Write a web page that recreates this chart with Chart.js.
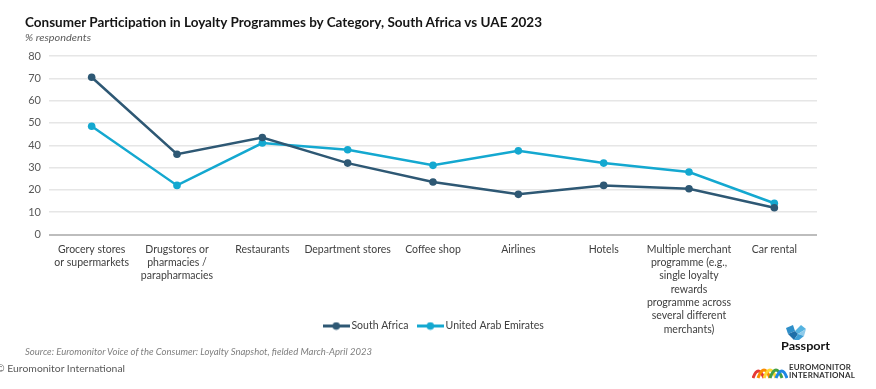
<!DOCTYPE html>
<html>
<head>
<meta charset="utf-8">
<script src="https://cdn.jsdelivr.net/npm/chart.js@4.4.1/dist/chart.umd.min.js"></script>
<style>
    html, body { margin: 0; padding: 0; background: #fff; }
    body { width: 876px; height: 389px; position: relative; overflow: hidden; font-family: Lato, sans-serif; }
    #chart { position: absolute; left: 0; top: 0; }
    .txt { position: absolute; white-space: nowrap; line-height: 1; transform-origin: 0 50%; }
    .title { left: 25px; top: 15px; font-size: 14px; font-weight: bold; color: #151515; }
    .subtitle { left: 25px; top: 32px; font-size: 10px; font-style: italic; color: #595959; }
    .source { left: 25px; top: 347px; font-size: 9px; font-style: italic; color: #7f7f7f; }
    .copy { left: -4px; top: 364px; font-size: 9px; color: #595959; }
    .passport { left: 781px; top: 340px; font-size: 12px; font-weight: bold; color: #111; }
    .euro { left: 789px; font-size: 8px; font-weight: bold; color: #333; letter-spacing: 0.2px; }
    svg { position: absolute; }
</style>
</head>
<body>
<canvas id="chart" width="876" height="389"></canvas>

<div class="txt title" data-w="517">Consumer Participation in Loyalty Programmes by Category, South Africa vs UAE 2023</div>
<div class="txt subtitle" data-w="66">% respondents</div>
<div class="txt source" data-w="347">Source: Euromonitor Voice of the Consumer: Loyalty Snapshot, fielded March-April 2023</div>
<div class="txt copy" data-w="129">© Euromonitor International</div>

<svg style="left:784px;top:324px" width="24" height="17" viewBox="0 0 24 17">
    <polygon points="2,4 9,1 11,7 4,10" fill="#2f8fc9"/>
    <polygon points="11,7 17,1 22,5 14,10" fill="#55b3e0"/>
    <polygon points="4,10 11,7 14,10 10,16" fill="#1f6fa8"/>
    <polygon points="14,10 22,5 20,12" fill="#8fcbea"/>
    <polygon points="10,16 14,10 20,12 15,16" fill="#3d9fd6"/>
</svg>
<div class="txt passport" data-w="49">Passport</div>

<svg style="left:752px;top:362px" width="36" height="17" viewBox="0 0 36 17">
    <path d="M1,16 Q6,2 12,16" stroke="#e53935" stroke-width="3" fill="none"/>
    <path d="M6,16 Q12,0 18,16" stroke="#fb8c00" stroke-width="3" fill="none"/>
    <path d="M12,16 Q18,0 24,16" stroke="#fdd835" stroke-width="3" fill="none"/>
    <path d="M18,16 Q24,0 30,16" stroke="#43a047" stroke-width="3" fill="none"/>
    <path d="M24,16 Q30,2 35,16" stroke="#1e88e5" stroke-width="3" fill="none"/>
</svg>
<div class="txt euro" style="top:363px" data-w="62">EUROMONITOR</div>
<div class="txt euro" style="top:371px" data-w="66">INTERNATIONAL</div>

<script>
const categories = [
    ['Grocery stores', 'or supermarkets'],
    ['Drugstores or', 'pharmacies /', 'parapharmacies'],
    'Restaurants',
    'Department stores',
    'Coffee shop',
    'Airlines',
    'Hotels',
    ['Multiple merchant', 'programme (e.g.,', 'single loyalty', 'rewards', 'programme across', 'several different', 'merchants)'],
    'Car rental'
];
const southAfrica = [70.5, 36, 43.5, 32, 23.5, 18, 22, 20.5, 12];
const uae = [48.5, 22, 41, 38, 31, 37.5, 32, 28, 14];
const yMin = 0;
const yMax = 80;
const yStep = 10;

const SA_COLOR = '#2e5874';
const UAE_COLOR = '#14a8d0';
// the legend sits beside the tall last label, not below it
const LEGEND_CENTER = {x: 441, y: 326};

// line + dot swatch for the legend
const legendMark = color => {
    const c = document.createElement('canvas');
    c.width = 27;
    c.height = 9;
    const ctx = c.getContext('2d');
    ctx.strokeStyle = color;
    ctx.lineWidth = 3;
    ctx.beginPath();
    ctx.moveTo(0, 4.5);
    ctx.lineTo(27, 4.5);
    ctx.stroke();
    ctx.fillStyle = color;
    ctx.beginPath();
    ctx.arc(13.5, 4.5, 3.8, 0, Math.PI * 2);
    ctx.fill();
    return c;
};
const marks = [legendMark(SA_COLOR), legendMark(UAE_COLOR)];

const moveLegend = {
    id: 'moveLegend',
    afterLayout: chart => {
        const lg = chart.legend;
        const lbl = lg.options.labels;
        const dx = LEGEND_CENTER.x - (lg.left + lg.right + lbl.padding) / 2;
        const dy = LEGEND_CENTER.y - (lg.top + lbl.padding + lbl.font.size / 2);
        lg.left += dx;
        lg.right += dx;
        lg.top += dy;
        lg.bottom += dy;
    }
};

const makeSeries = (label, data, color) => ({
    label,
    data,
    borderColor: color,
    backgroundColor: color,
    borderWidth: 2.5,
    pointRadius: 3.8,
    pointHoverRadius: 3.8,
    pointBackgroundColor: color,
    pointBorderWidth: 0,
    tension: 0
});

new Chart(document.getElementById('chart'), {
    type: 'line',
    data: {
        labels: categories,
        datasets: [
            makeSeries('South Africa', southAfrica, SA_COLOR),
            makeSeries('United Arab Emirates', uae, UAE_COLOR)
        ]
    },
    plugins: [moveLegend],
    options: {
        responsive: false,
        animation: false,
        devicePixelRatio: 1,
        layout: {padding: {top: 56, left: 0, right: 59, bottom: 0}},
        font: {family: 'Lato, sans-serif'},
        plugins: {
            tooltip: {enabled: false},
            legend: {
                position: 'bottom',
                labels: {
                    usePointStyle: true,
                    pointStyleWidth: 20,
                    padding: 12,
                    color: '#404040',
                    font: {family: 'Lato, sans-serif', size: 10.5},
                    generateLabels: chart => Chart.defaults.plugins.legend.labels.generateLabels(chart)
                        .map((item, i) => ({...item, pointStyle: marks[i]}))
                }
            }
        },
        scales: {
            x: {
                offset: true,
                grid: {display: false, drawTicks: false},
                border: {display: false},
                ticks: {
                    color: '#404040',
                    font: {family: 'Lato, sans-serif', size: 10.5, lineHeight: 1.27},
                    padding: 8,
                    maxRotation: 0,
                    autoSkip: false
                },
                afterFit: scale => { scale.height = 122; }
            },
            y: {
                min: yMin,
                max: yMax,
                ticks: {
                    stepSize: yStep,
                    color: '#595959',
                    font: {family: 'Lato, sans-serif', size: 11},
                    padding: 8
                },
                grid: {
                    drawTicks: false,
                    color: ctx => ctx.tick.value === 0 ? '#bdbdbd' : '#e6e6e6',
                    lineWidth: ctx => ctx.tick.value === 0 ? 2 : 1.5
                },
                border: {display: false},
                afterFit: scale => { scale.width = 49; }
            }
        }
    }
});

const fitText = () => {
    document.querySelectorAll('[data-w]').forEach(el => {
        el.style.transform = 'none';
        const w = el.getBoundingClientRect().width;
        el.style.transform = `scaleX(${el.dataset.w / w})`;
    });
};
fitText();
document.fonts.ready.then(fitText);
</script>
</body>
</html>
